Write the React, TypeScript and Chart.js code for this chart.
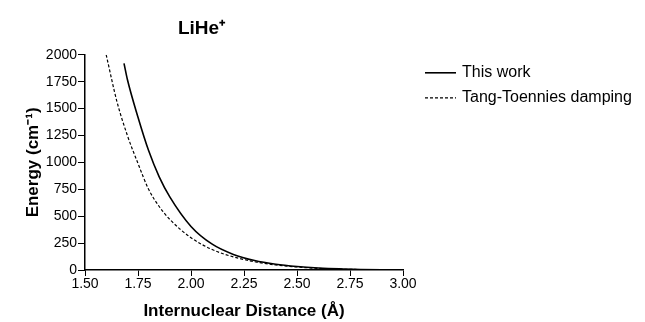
import React, { useEffect, useRef } from "react";
import { Chart, registerables } from "chart.js";

Chart.register(...registerables);

const chartTitle = "LiHe⁺";
const xAxisTitle = "Internuclear Distance (Å)";
const yAxisTitle = "Energy (cm⁻¹)";
const seriesLabels = ["This work", "Tang-Toennies damping"];

const thisWorkX = [1.684, 1.7, 1.75, 1.8, 1.85, 1.9, 2.0, 2.1, 2.2, 2.3, 2.4, 2.5, 2.6, 2.7, 2.8, 2.9, 3.0];
const thisWorkY = [1920, 1770, 1420, 1110, 866, 680, 405, 240, 145, 88, 54, 33, 19, 10, 5, 2, 1];

const ttX = [1.6, 1.65, 1.7, 1.75, 1.8, 1.85, 1.9, 2.0, 2.1, 2.2, 2.3, 2.4, 2.5, 2.6, 2.7, 2.8, 2.9, 3.0];
const ttY = [2000, 1570, 1250, 990, 750, 590, 470, 300, 190, 122, 77, 47, 28, 15, 8, 4, 2, 1];

const xTicks = [1.5, 1.75, 2.0, 2.25, 2.5, 2.75, 3.0];
const yTicks = [0, 250, 500, 750, 1000, 1250, 1500, 1750, 2000];

const FONT = "'Liberation Sans', Arial, sans-serif";

const legendPlugin = {
  id: "sideLegend",
  afterDraw(chart: any) {
    const ctx = chart.ctx;
    const area = chart.chartArea;
    const x0 = area.right + 22;
    const y0 = area.top + 18;
    const rowGap = 25;
    ctx.save();
    chart.data.datasets.forEach((ds: any, i: number) => {
      const y = y0 + i * rowGap;
      ctx.beginPath();
      ctx.strokeStyle = ds.borderColor;
      ctx.lineWidth = ds.borderWidth;
      ctx.setLineDash(ds.borderDash || []);
      ctx.moveTo(x0, y);
      ctx.lineTo(x0 + 31, y);
      ctx.stroke();
      ctx.setLineDash([]);
      ctx.fillStyle = "#000";
      ctx.font = `16px ${FONT}`;
      ctx.textBaseline = "middle";
      ctx.textAlign = "left";
      ctx.fillText(ds.label, x0 + 37, y);
    });
    ctx.restore();
  },
};

export default function App() {
  const canvasRef = useRef<HTMLCanvasElement | null>(null);

  useEffect(() => {
    if (!canvasRef.current) return;
    const chart = new Chart(canvasRef.current, {
      type: "line",
      data: {
        datasets: [
          {
            label: seriesLabels[0],
            data: thisWorkX.map((x, i) => ({ x, y: thisWorkY[i] })),
            borderColor: "#000",
            borderWidth: 1.6,
            pointRadius: 0,
            fill: false,
            cubicInterpolationMode: "monotone",
          },
          {
            label: seriesLabels[1],
            data: ttX.map((x, i) => ({ x, y: ttY[i] })),
            borderColor: "#000",
            borderWidth: 1.2,
            borderDash: [3, 2],
            pointRadius: 0,
            fill: false,
            cubicInterpolationMode: "monotone",
          },
        ],
      },
      options: {
        animation: false,
        responsive: false,
        maintainAspectRatio: false,
        layout: { padding: { left: 0, right: 242, top: 0, bottom: 0 } },
        plugins: {
          legend: { display: false },
          tooltip: { enabled: false },
          title: {
            display: true,
            text: chartTitle,
            color: "#000",
            font: { family: FONT, size: 19, weight: "bold" },
            padding: { top: 17, bottom: 15 },
          },
        },
        scales: {
          x: {
            type: "linear",
            min: 1.5,
            max: 3.0,
            afterBuildTicks: (scale: any) => {
              scale.ticks = xTicks.map((v) => ({ value: v }));
            },
            afterFit: (scale: any) => {
              scale.height = 52;
            },
            ticks: {
              color: "#000",
              font: { family: FONT, size: 14 },
              padding: 0,
              maxRotation: 0,
              autoSkip: false,
              callback: (v: any) => Number(v).toFixed(2),
            },
            grid: {
              display: true,
              drawOnChartArea: false,
              drawTicks: true,
              tickLength: 6,
              color: "#000",
              lineWidth: 1,
            },
            border: { display: true, color: "#000", width: 1.5 },
            title: {
              display: true,
              text: xAxisTitle,
              color: "#000",
              font: { family: FONT, size: 17, weight: "bold" },
              padding: { top: 0, bottom: 0 },
            },
          },
          y: {
            type: "linear",
            min: 0,
            max: 2000,
            afterBuildTicks: (scale: any) => {
              scale.ticks = yTicks.map((v) => ({ value: v }));
            },
            afterFit: (scale: any) => {
              scale.width = 85;
            },
            ticks: {
              color: "#000",
              font: { family: FONT, size: 14 },
              padding: 1,
              autoSkip: false,
              callback: (v: any) => String(v),
            },
            grid: {
              display: true,
              drawOnChartArea: false,
              drawTicks: true,
              tickLength: 7,
              color: "#000",
              lineWidth: 1,
            },
            border: { display: true, color: "#000", width: 1.5 },
            title: {
              display: true,
              text: yAxisTitle,
              color: "#000",
              font: { family: FONT, size: 17, weight: "bold" },
              padding: { top: 23, bottom: 0 },
            },
          },
        },
      },
      plugins: [legendPlugin],
    });
    return () => chart.destroy();
  }, []);

  return (
    <div style={{ position: "fixed", left: 0, top: 0, width: 645, height: 322, background: "#fff" }}>
      <canvas ref={canvasRef} width={645} height={322} style={{ width: 645, height: 322 }} />
    </div>
  );
}
